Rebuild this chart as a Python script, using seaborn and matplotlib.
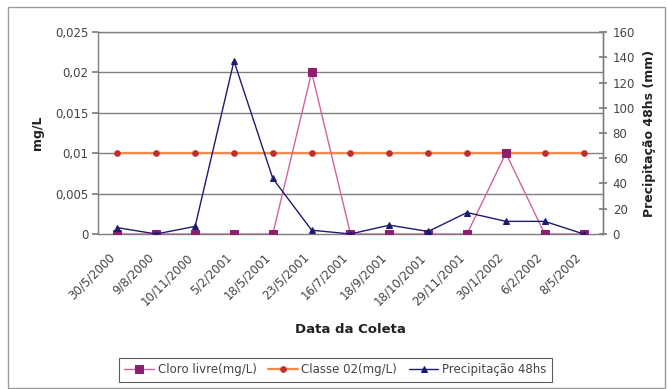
import matplotlib
matplotlib.use("Agg")
import matplotlib.pyplot as plt
import matplotlib.transforms as mtransforms
import seaborn as sns
import pandas as pd
import numpy as np
from matplotlib.patches import Rectangle

# Sampling dates and measured series
datas = ["30/5/2000", "9/8/2000", "10/11/2000", "5/2/2001", "18/5/2001",
         "23/5/2001", "16/7/2001", "18/9/2001", "18/10/2001", "29/11/2001",
         "30/1/2002", "6/2/2002", "8/5/2002"]
cloro_livre = [0, 0, 0, 0, 0, 0.02, 0, 0, 0, 0, 0.01, 0, 0]
classe_02 = [0.01] * 13
precipitacao = [5, 0, 6, 137, 44, 3, 0, 7, 2, 17, 10, 10, 0]

left_ticks = [0, 0.005, 0.01, 0.015, 0.02, 0.025]
left_labels = ["0", "0,005", "0,01", "0,015", "0,02", "0,025"]
right_ticks = [0, 20, 40, 60, 80, 100, 120, 140, 160]

df = pd.DataFrame({
    "idx": np.arange(len(datas)),
    "data": datas,
    "cloro": cloro_livre,
    "classe": classe_02,
    "prec": precipitacao,
})

sns.set_theme(style="white")
plt.rcParams["font.family"] = ["DejaVu Sans"]

fig = plt.figure(figsize=(6.68, 3.89), dpi=100)
fig.patch.set_facecolor("white")
fig.patches.append(Rectangle((0.012, 0.003), 0.984, 0.979, transform=fig.transFigure,
                             fill=False, edgecolor="#9a9a9a", linewidth=1.0))

ax = fig.add_axes([0.1467, 0.3985, 0.7560, 0.5192])
ax2 = ax.twinx()

c_cloro_line = "#d4619f"
c_cloro_mk = "#8e1f6e"
c_classe_line = "#f08a4b"
c_classe_mk = "#c0302a"
c_prec = "#1c1c6e"

sns.lineplot(data=df, x="idx", y="cloro", ax=ax, sort=False, color=c_cloro_line,
             linewidth=1.0, marker="s", markersize=6, markerfacecolor=c_cloro_mk,
             markeredgecolor=c_cloro_mk, label="Cloro livre(mg/L)", legend=False, zorder=4)
sns.lineplot(data=df, x="idx", y="classe", ax=ax, sort=False, color=c_classe_line,
             linewidth=1.6, marker="o", markersize=4, markerfacecolor=c_classe_mk,
             markeredgecolor=c_classe_mk, label="Classe 02(mg/L)", legend=False, zorder=3)
sns.lineplot(data=df, x="idx", y="prec", ax=ax2, sort=False, color=c_prec,
             linewidth=1.0, marker="^", markersize=5, markerfacecolor=c_prec,
             markeredgecolor=c_prec, label="Precipitação 48hs", legend=False, zorder=5)

n = len(datas)
for a in (ax, ax2):
    a.set_xlim(-0.5, n - 0.5)
ax.set_ylim(0, 0.025)
ax2.set_ylim(0, 160)

# Horizontal gridlines on the left scale
for t in left_ticks[1:]:
    ax.axhline(t, color="#7f7f7f", linewidth=1.0, zorder=1)

ax.set_yticks(left_ticks)
ax.set_yticklabels(left_labels)
ax2.set_yticks(right_ticks)
ax2.set_yticklabels([str(t) for t in right_ticks])

ax.set_xticks(np.arange(n))
ax.set_xticklabels(datas, rotation=45, ha="right", rotation_mode="anchor")
ax.set_xticks(np.arange(n + 1) - 0.5, minor=True)
ax.tick_params(axis="x", which="major", length=0, pad=12, labelsize=8.5, colors="#444444")
ax.tick_params(axis="x", which="minor", length=6, direction="inout", color="#7f7f7f", width=0.8)
ax.tick_params(axis="y", which="major", length=4, direction="out", labelsize=8.5,
               colors="#444444", color="#7f7f7f", pad=3)
ax2.tick_params(axis="y", which="major", length=6, direction="inout", labelsize=8.5,
                colors="#444444", color="#7f7f7f", pad=4)

# shift the rotated date labels slightly to the left
shift = mtransforms.ScaledTranslation(-9 / 100, 0, fig.dpi_scale_trans)
for lbl in ax.get_xticklabels():
    lbl.set_transform(lbl.get_transform() + shift)

for a in (ax, ax2):
    for s in a.spines.values():
        s.set_color("#7f7f7f")
        s.set_linewidth(1.0)
ax2.spines["top"].set_visible(False)
ax2.spines["bottom"].set_visible(False)
ax2.spines["left"].set_visible(False)

ax.set_xlabel("Data da Coleta", fontsize=9.5, fontweight="bold", labelpad=11, color="#222222")
ax.set_ylabel("mg/L", fontsize=9, fontweight="bold", labelpad=8, color="#222222")
ax2.set_ylabel("Precipitação 48hs (mm)", fontsize=9, fontweight="bold", labelpad=6,
               color="#222222")
ax2.grid(False)
ax.grid(False)

h1, l1 = ax.get_legend_handles_labels()
h2, l2 = ax2.get_legend_handles_labels()
leg = fig.legend(h1 + h2, l1 + l2, loc="center", bbox_to_anchor=(0.502, 0.049), ncol=3,
                 fontsize=8.5, frameon=True, fancybox=False, handlelength=2.5,
                 handletextpad=0.3, columnspacing=1.0, borderpad=0.5)
leg.get_frame().set_edgecolor("#333333")
leg.get_frame().set_linewidth(0.8)
for t in leg.get_texts():
    t.set_color("#444444")

fig.savefig("out.png", dpi=100)
